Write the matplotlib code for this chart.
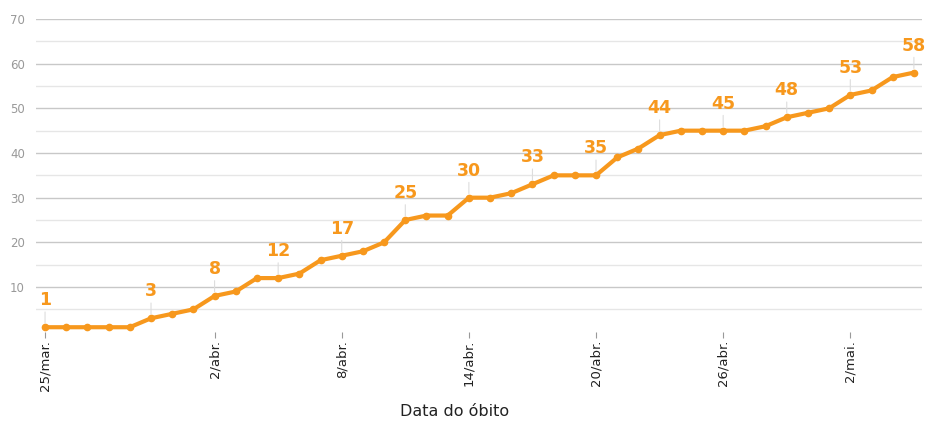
import numpy as np
import matplotlib
matplotlib.use('Agg')
import matplotlib.pyplot as plt

plt.rcParams['font.family'] = ['DejaVu Sans']

# cumulative deaths, one value per day starting 25/mar
obitos = [1, 1, 1, 1, 1, 3, 4, 5, 8, 9, 12, 12, 13, 16, 17, 18, 20, 25, 26, 26,
          30, 30, 31, 33, 35, 35, 35, 39, 41, 44, 45, 45, 45, 45, 46, 48, 49, 50,
          53, 54, 57, 58]
tick_dias = [0, 8, 14, 20, 26, 32, 38]
tick_labels = ['25/mar.', '2/abr.', '8/abr.', '14/abr.', '20/abr.', '26/abr.', '2/mai.']
rotulo_dias = [0, 5, 8, 11, 14, 17, 20, 23, 26, 29, 32, 35, 38, 41]

cor = '#f7981d'
dias = np.arange(len(obitos))

fig = plt.figure(figsize=(9.27, 4.22), dpi=100)
ax = fig.add_axes([0.039, 0.214, 0.956, 0.741])

for y in range(5, 71, 5):
    if y % 10 == 0:
        ax.axhline(y, color='#c8c8c8', lw=1.0, zorder=0)
    else:
        ax.axhline(y, color='#e6e6e6', lw=1.0, zorder=0)

ax.plot(dias, obitos, color=cor, lw=3, marker='o', ms=4.5, zorder=3)

for d in rotulo_dias:
    v = obitos[d]
    ax.annotate(str(v), xy=(d, v), xytext=(0, 13), textcoords='offset points',
                ha='center', va='bottom', color=cor, fontsize=12.5, fontweight='bold',
                arrowprops=dict(arrowstyle='-', color='#dddddd', lw=0.8,
                                shrinkA=0, shrinkB=3))

ax.set_xlim(-0.42, 41.4)
ax.set_ylim(0, 70)
ax.set_yticks(range(10, 71, 10))
ax.set_xticks(tick_dias)
ax.set_xticklabels(tick_labels, rotation=90, fontsize=9.5, color='#222222')
ax.tick_params(axis='y', length=0, labelsize=8.5, labelcolor='#999999', pad=8)
ax.tick_params(axis='x', length=4, color='#999999', pad=2)
for s in ax.spines.values():
    s.set_visible(False)

fig.text(0.49, 0.025, 'Data do óbito', ha='center', va='center',
         fontsize=11.5, color='#222222')

fig.savefig('out.png', dpi=100)
